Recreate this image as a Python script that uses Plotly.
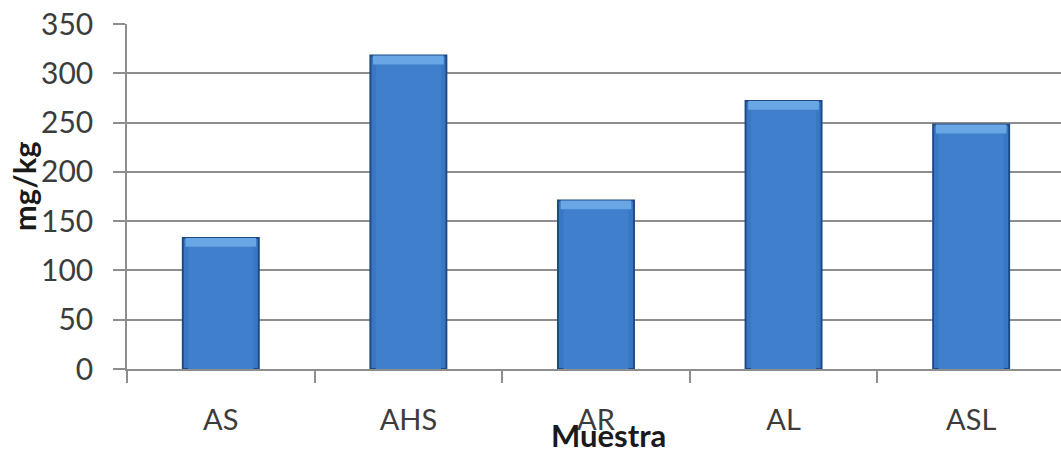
import plotly.graph_objects as go

# Sample categories and measured concentrations (mg/kg)
muestras = ["AS", "AHS", "AR", "AL", "ASL"]
concentracion = [133, 318, 171, 272, 248]

y_ticks = [0, 50, 100, 150, 200, 250, 300, 350]

BAR_W = 0.405
BEVEL = 9  # height of the lighter top bevel, in axis units

fig = go.Figure()

# main bar body
fig.add_trace(go.Bar(
    x=muestras, y=concentracion, width=BAR_W,
    marker=dict(color="#3a77c2", line=dict(color="#1d4b86", width=2)),
    hoverinfo="x+y", showlegend=False,
))
# softer inner body for a rounded look
fig.add_trace(go.Bar(
    x=muestras, y=[v - BEVEL for v in concentracion], width=BAR_W * 0.86,
    marker=dict(color="#3f7fcb", line=dict(width=0)),
    hoverinfo="skip", showlegend=False,
))
# light bevel along the top edge
fig.add_trace(go.Bar(
    x=muestras, y=[BEVEL] * len(muestras),
    base=[v - BEVEL for v in concentracion], width=BAR_W * 0.93,
    marker=dict(color="#69a6e6", line=dict(width=0)),
    hoverinfo="skip", showlegend=False,
))

grid = "#8e8e8e"
fig.update_layout(
    width=1061, height=456,
    margin=dict(l=127, r=0, t=24, b=87),
    paper_bgcolor="white", plot_bgcolor="white",
    barmode="overlay",
    font=dict(family="Lato, 'Open Sans', sans-serif", color="#3c3c3c", size=30),
    xaxis=dict(
        type="category", range=[-0.5, 4.479],
        tickson="boundaries", ticks="outside", ticklen=12, tickcolor=grid,
        tickwidth=1.5, showline=True, linecolor=grid, linewidth=1.5,
        showgrid=False, ticklabelstandoff=24,
        tickfont=dict(size=29),
    ),
    yaxis=dict(
        range=[0, 350], tickvals=y_ticks, ticks="outside", ticklen=12,
        tickcolor=grid, tickwidth=1.5, showline=True, linecolor=grid,
        linewidth=1.5, showgrid=True, gridcolor=grid, gridwidth=1.5,
        zeroline=False, ticklabelstandoff=14,
        tickfont=dict(size=30),
    ),
    annotations=[
        dict(text="<b>mg/kg</b>", textangle=-90, xref="paper", yref="paper",
             x=0, y=0.53, xshift=-103, xanchor="center", yanchor="middle",
             showarrow=False, font=dict(size=31, color="#1a1a1a")),
        dict(text="<b>Muestra</b>", xref="paper", yref="paper",
             x=0.515, y=0, yshift=-66, xanchor="center", yanchor="middle",
             showarrow=False, font=dict(size=31, color="#1a1a1a")),
    ],
)

fig.write_html("out.html")
